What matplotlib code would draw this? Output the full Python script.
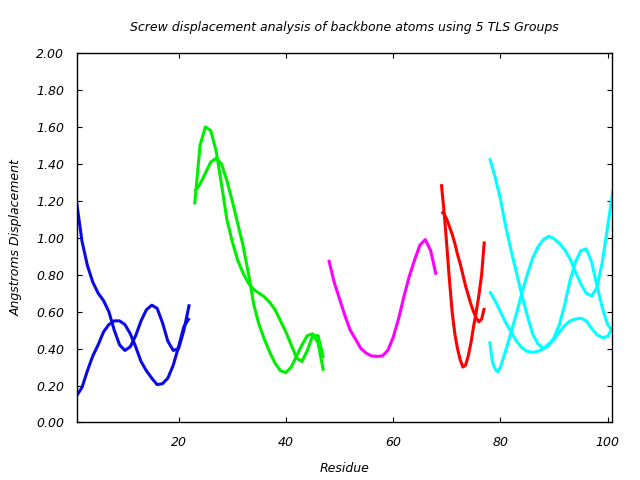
import matplotlib
matplotlib.use('Agg')
import matplotlib.pyplot as plt

# TLS group 1 (blue), residues 1-22
blue_x = list(range(1, 23))
blue_a = [1.19, 0.98, 0.85, 0.76, 0.70, 0.66, 0.60, 0.50, 0.42, 0.39, 0.41,
          0.47, 0.55, 0.61, 0.635, 0.618, 0.54, 0.44, 0.39, 0.40, 0.50, 0.64]
blue_b = [0.145, 0.19, 0.28, 0.36, 0.42, 0.49, 0.53, 0.55, 0.55, 0.53, 0.48,
          0.41, 0.33, 0.28, 0.24, 0.205, 0.21, 0.24, 0.31, 0.41, 0.52, 0.565]

# TLS group 2 (green), residues 23-47
green_x = list(range(23, 48))
green_a = [1.18, 1.50, 1.60, 1.58, 1.47, 1.29, 1.10, 0.98, 0.88, 0.81, 0.755,
           0.72, 0.70, 0.68, 0.65, 0.61, 0.55, 0.49, 0.42, 0.35, 0.33, 0.39,
           0.47, 0.47, 0.35]
green_b = [1.25, 1.29, 1.35, 1.41, 1.43, 1.40, 1.31, 1.20, 1.08, 0.96, 0.81,
           0.64, 0.53, 0.45, 0.38, 0.32, 0.28, 0.27, 0.30, 0.36, 0.42, 0.47,
           0.48, 0.43, 0.28]

# TLS group 3 (magenta), residues 48-68
magenta_x = list(range(48, 69))
magenta_a = [0.88, 0.76, 0.67, 0.58, 0.50, 0.45, 0.40, 0.375, 0.36, 0.358,
             0.36, 0.39, 0.46, 0.56, 0.68, 0.79, 0.88, 0.96, 0.99, 0.93, 0.80]

# TLS group 4 (red), residues 69-77
red_x = [69, 69.5, 70, 70.5, 71, 71.5, 72, 72.5, 73, 73.5, 74, 74.5, 75,
         75.5, 76, 76.5, 77]
red_a = [1.29, 1.14, 0.96, 0.77, 0.60, 0.48, 0.40, 0.34, 0.30, 0.31, 0.36,
         0.43, 0.52, 0.60, 0.69, 0.80, 0.98]
red_b = [1.14, 1.13, 1.10, 1.06, 1.02, 0.97, 0.91, 0.86, 0.80, 0.74, 0.69,
         0.64, 0.60, 0.565, 0.545, 0.56, 0.62]

# TLS group 5 (cyan), residues 78-101
cyan_x = list(range(78, 102))
cyan_a = [1.43, 1.33, 1.21, 1.06, 0.93, 0.81, 0.69, 0.58, 0.48, 0.425, 0.40,
          0.415, 0.46, 0.53, 0.64, 0.77, 0.87, 0.93, 0.94, 0.87, 0.74, 0.62,
          0.53, 0.49]
cyan_b = [0.71, 0.66, 0.60, 0.54, 0.49, 0.44, 0.405, 0.385, 0.38, 0.385, 0.40,
          0.425, 0.45, 0.49, 0.525, 0.55, 0.56, 0.565, 0.55, 0.51, 0.475, 0.46,
          0.465, 0.52]
cyan_cx = [78, 78.5, 79, 79.5, 80, 81, 82, 83, 84, 85, 86, 87, 88, 89, 90, 91,
           92, 93, 94, 95, 96, 97, 98, 99, 100, 101]
cyan_c = [0.44, 0.33, 0.29, 0.275, 0.30, 0.39, 0.49, 0.59, 0.70, 0.80, 0.89,
          0.95, 0.99, 1.008, 0.995, 0.97, 0.935, 0.885, 0.815, 0.75, 0.70,
          0.685, 0.73, 0.87, 1.06, 1.26]

series = [
    (blue_x, blue_a, '#0a0ae6'), (blue_x, blue_b, '#0a0ae6'),
    (green_x, green_a, '#00ee00'), (green_x, green_b, '#00ee00'),
    (magenta_x, magenta_a, '#ff00ff'),
    (red_x, red_a, '#ff0000'), (red_x, red_b, '#ff0000'),
    (cyan_x, cyan_a, '#00ffff'), (cyan_x, cyan_b, '#00ffff'),
    (cyan_cx, cyan_c, '#00ffff'),
]

fig = plt.figure(figsize=(6.4, 4.8), dpi=100)
ax = fig.add_axes([0.1198, 0.1198, 0.8369, 0.7698])

for xs, ys, col in series:
    ax.plot(xs, ys, color=col, linewidth=2.2, solid_capstyle='butt')

ax.set_xlim(1, 100.86)
ax.set_ylim(0, 2.0)
ax.set_xticks([20, 40, 60, 80, 100])
ax.set_yticks([i * 0.2 for i in range(11)])
ax.set_yticklabels(['%.2f' % (i * 0.2) for i in range(11)])
ax.tick_params(direction='in', length=3.5, width=0.8, top=True, right=True,
               labelsize=9)
ax.tick_params(axis='x', pad=10)
ax.tick_params(axis='y', pad=9)
for lab in ax.get_xticklabels() + ax.get_yticklabels():
    lab.set_fontstyle('italic')
for s in ax.spines.values():
    s.set_linewidth(1)

ax.set_title('Screw displacement analysis of backbone atoms using 5 TLS Groups',
             fontsize=9, style='italic', pad=16)
ax.set_xlabel('Residue', fontsize=9, style='italic', labelpad=9)
ax.set_ylabel('Angstroms Displacement', fontsize=9, style='italic', labelpad=10)

fig.savefig('out.png', dpi=100)
